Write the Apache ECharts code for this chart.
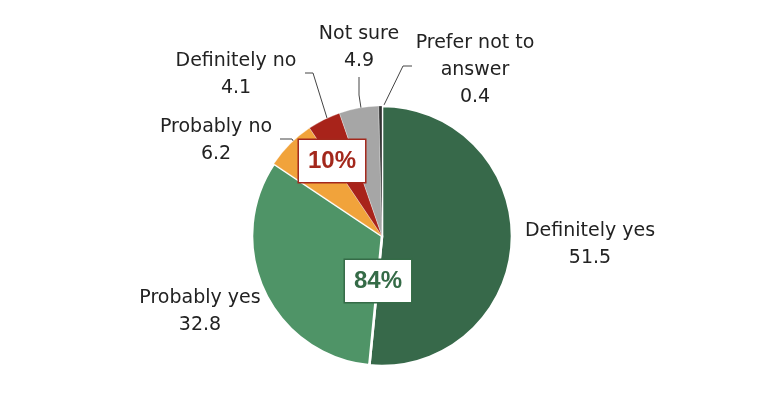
<!DOCTYPE html>
<html>
<head>
<meta charset="utf-8">
<script src="https://cdn.jsdelivr.net/npm/echarts@6/dist/echarts.min.js"></script>
<style>
html,body{margin:0;padding:0;background:#fff;}
#chart{width:771px;height:394px;}
</style>
</head>
<body>
<div id="chart"></div>
<script>
// ---- data ----
const categories = ['Definitely yes', 'Probably yes', 'Probably no', 'Definitely no', 'Not sure', 'Prefer not to answer'];
const values = [51.5, 32.8, 6.2, 4.1, 4.9, 0.4];
const yesGroup = [0, 1];   // indices summed for the "84%" box
const noGroup = [2, 3];    // indices summed for the "10%" box

// ---- styles / layout ----
const colors = ['#37694a', '#4f9467', '#f1a33b', '#a8231a', '#a6a6a6', '#333333'];
const borderWidths = [2.6, 2.6, 0.3, 0.3, 0.3, 0.3];
const showLines = [false, false, true, true, true, true];
const CX = 382, CY = 236, R = 130;
const labelCenters = [[590, 245], [200, 312], [216, 141], [236, 75], [359, 48], [475, 70]];
const linePoints = [null, null,
  [[280, 139], [292, 139], [297, 147]],
  [[305, 73], [313, 73], [327, 118]],
  [[359, 77], [359, 95], [361, 108]],
  [[412, 66], [403, 66], [383, 107]]];

function wrap(name, max) {
  const words = name.split(' ');
  const lines = [];
  let cur = '';
  words.forEach(w => {
    const t = cur ? cur + ' ' + w : w;
    if (t.length > max && cur) { lines.push(cur); cur = w; } else { cur = t; }
  });
  if (cur) lines.push(cur);
  return lines.join('\n');
}
const sum = idx => idx.reduce((s, i) => s + values[i], 0);

const chart = echarts.init(document.getElementById('chart'));
chart.setOption({
  animation: false,
  backgroundColor: '#fff',
  series: [{
    type: 'pie',
    center: [CX, CY],
    radius: R,
    startAngle: 90,
    clockwise: true,
    avoidLabelOverlap: false,
    data: categories.map((c, i) => ({
      name: c,
      value: values[i],
      itemStyle: { color: colors[i], borderColor: '#fff', borderWidth: borderWidths[i] },
      labelLine: { show: showLines[i] }
    })),
    label: {
      show: true,
      position: 'outside',
      formatter: p => wrap(p.name, 14) + '\n' + p.value,
      fontFamily: 'DejaVu Sans',
      fontSize: 19,
      lineHeight: 27,
      color: '#222',
      align: 'center'
    },
    labelLine: {
      show: true,
      lineStyle: { color: '#444', width: 1 }
    },
    labelLayout: p => {
      const c = labelCenters[p.dataIndex];
      const o = { x: c[0], y: c[1], align: 'center', verticalAlign: 'middle', hideOverlap: false, moveOverlap: null };
      if (linePoints[p.dataIndex]) o.labelLinePoints = linePoints[p.dataIndex];
      return o;
    },
    emphasis: { disabled: true }
  }],
  graphic: [
    {
      type: 'text', x: CX - 4, y: CY + 45, z: 100,
      style: {
        text: Math.round(sum(yesGroup)) + '%', align: 'center', verticalAlign: 'middle',
        font: 'bold 24px "Liberation Sans"', fill: '#356b47',
        backgroundColor: '#fff', borderColor: '#356b47', borderWidth: 1.5, padding: [9, 9]
      }
    },
    {
      type: 'text', x: CX - 50, y: CY - 75, z: 100,
      style: {
        text: Math.round(sum(noGroup)) + '%', align: 'center', verticalAlign: 'middle',
        font: 'bold 24px "Liberation Sans"', fill: '#a3281c',
        backgroundColor: '#fff', borderColor: '#a3281c', borderWidth: 1.5, padding: [9, 9]
      }
    }
  ]
});
</script>
</body>
</html>
